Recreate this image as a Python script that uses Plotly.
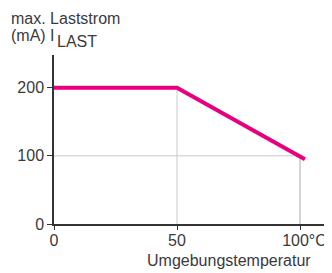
import plotly.graph_objects as go

temp = [0, 50, 102]
current = [200, 200, 95]
x_ticks = [0, 50, 100]
x_tick_labels = ["0", "50", "\u00a0\u00a0100°C"]
y_ticks = [0, 100, 200]
y_tick_labels = ["0", "100", "200"]

fig = go.Figure()
grid = dict(color="#c8c8c8", width=1)
fig.add_trace(go.Scatter(x=[50, 50], y=[0, 200], mode="lines", line=grid, hoverinfo="skip"))
fig.add_trace(go.Scatter(x=[100, 100], y=[0, 99], mode="lines", line=dict(color="#aaaaaa", width=1), hoverinfo="skip"))
fig.add_trace(go.Scatter(x=[0, 100], y=[100, 100], mode="lines", line=grid, hoverinfo="skip"))
fig.add_trace(go.Scatter(x=temp, y=current, mode="lines", line=dict(color="#e6007e", width=4)))

font = dict(family="Liberation Sans, Arial, sans-serif", size=16, color="#3a3a3a")
L, T, W, H = 46, 47, 278, 169
fig.update_layout(
    width=324, height=265, showlegend=False,
    margin=dict(l=L, r=0, t=T, b=49),
    paper_bgcolor="white", plot_bgcolor="white",
    font=font,
    xaxis=dict(range=[0, 113], tickvals=x_ticks, ticktext=x_tick_labels, automargin=False,
               showgrid=False, zeroline=False, showline=True, linecolor="#333333", linewidth=1.5,
               ticks="outside", ticklen=4, tickcolor="#333333", tickfont=font,
               ticklabelstandoff=-3, ticklabeloverflow="allow"),
    yaxis=dict(range=[0, 248], tickvals=y_ticks, ticktext=y_tick_labels, automargin=False,
               showgrid=False, zeroline=False, showline=True, linecolor="#333333", linewidth=1.5,
               ticks="outside", ticklen=5, tickcolor="#333333", tickfont=font),
)
fig.add_annotation(xref="paper", yref="paper", x=1, y=0, xanchor="right", yanchor="top",
                   xshift=-19, yshift=-26, showarrow=False,
                   text="Umgebungstemperatur", font=font)
top = dict(xref="paper", yref="paper", x=-L / W, y=1 + T / H, xanchor="left", yanchor="top",
           showarrow=False, align="left", font=font)
fig.add_annotation(text="max. Laststrom", xshift=1, yshift=0, **top)
fig.add_annotation(text="(mA) I", xshift=1, yshift=-17, **top)
fig.add_annotation(text="LAST", xshift=47, yshift=-23, **top)
fig.write_html("out.html")
